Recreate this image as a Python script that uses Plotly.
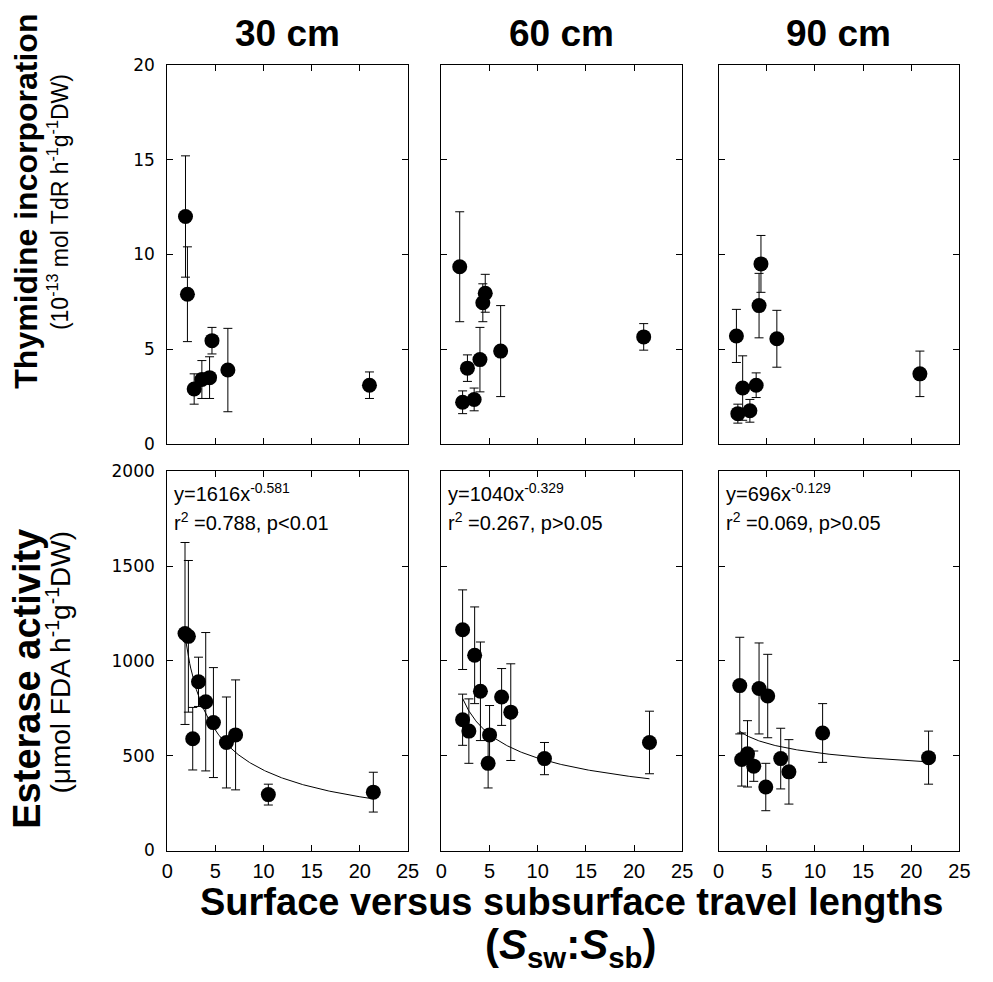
import numpy as np
import plotly.graph_objects as go

W, H = 993, 982

depths = ["30 cm", "60 cm", "90 cm"]

# Thymidine incorporation (10^-13 mol TdR h-1 g-1 DW)
thy30_x = [1.9, 2.1, 2.8, 3.6, 4.4, 4.65, 6.3, 21.0]
thy30_y = [12.0, 7.9, 2.9, 3.4, 3.5, 5.45, 3.9, 3.1]
thy30_e = [3.2, 2.5, 0.8, 1.0, 1.1, 0.7, 2.2, 0.7]

thy60_x = [1.9, 2.2, 2.7, 3.4, 4.0, 4.3, 4.55, 6.15, 21.0]
thy60_y = [9.35, 2.2, 4.0, 2.35, 4.45, 7.45, 7.95, 4.9, 5.65]
thy60_e = [2.9, 0.6, 0.7, 0.6, 1.7, 1.0, 1.0, 2.4, 0.7]

thy90_x = [1.85, 2.0, 2.5, 3.25, 3.9, 4.2, 4.4, 6.05, 20.9]
thy90_y = [5.7, 1.6, 2.95, 1.75, 3.1, 7.3, 9.5, 5.55, 3.7]
thy90_e = [1.4, 0.5, 1.7, 0.6, 0.65, 1.7, 1.5, 1.5, 1.2]

# Esterase activity (umol FDA h-1 g-1 DW)
est30_x = [1.85, 2.2, 2.65, 3.25, 4.0, 4.8, 6.15, 7.1, 10.5, 21.4]
est30_y = [1145, 1130, 590, 890, 785, 675, 570, 610, 295, 308]
est30_e = [480, 400, 165, 130, 365, 290, 240, 290, 55, 105]

est60_x = [2.2, 2.2, 2.85, 3.45, 4.05, 4.85, 5.0, 6.25, 7.2, 10.7, 21.6]
est60_y = [1165, 690, 630, 1030, 840, 460, 610, 810, 730, 485, 570]
est60_e = [210, 135, 170, 255, 260, 130, 155, 150, 255, 85, 165]

est90_x = [2.2, 2.4, 3.0, 3.65, 4.2, 4.9, 5.1, 6.45, 7.3, 10.8, 21.8]
est90_y = [870, 480, 510, 445, 855, 335, 815, 485, 415, 620, 490]
est90_e = [255, 140, 175, 80, 240, 125, 220, 160, 170, 155, 140]

# Power-law fits y = a * x^b
fit_coef = [1616, 1040, 696]
fit_exp = [-0.581, -0.329, -0.129]
fit_r2 = ["0.788", "0.267", "0.069"]
fit_p = ["p&lt;0.01", "p&gt;0.05", "p&gt;0.05"]

x_ticks = [0, 5, 10, 15, 20, 25]
thy_ticks = [0, 5, 10, 15, 20]
est_ticks = [0, 500, 1000, 1500, 2000]

thy_sets = [(thy30_x, thy30_y, thy30_e), (thy60_x, thy60_y, thy60_e), (thy90_x, thy90_y, thy90_e)]
est_sets = [(est30_x, est30_y, est30_e), (est60_x, est60_y, est60_e), (est90_x, est90_y, est90_e)]

# panel geometry in pixels
col_px = [(164, 409), (443, 688), (725, 970)]
top_px = (56, 443)
bot_px = (471, 858)


def xd(a, b):
    return [a / W, b / W]


def yd(t, b):
    return [1 - b / H, 1 - t / H]


def py(v):
    return 1 - v / H


fig = go.Figure()

marker = dict(size=15, color="black")
err_style = dict(type="data", color="black", thickness=1, width=4.5, visible=True)

for i in range(3):
    # top row uses axes 1-3, bottom row axes 4-6
    tx, ty, te = thy_sets[i]
    n_top = i + 1
    n_bot = i + 4
    fig.add_trace(go.Scatter(
        x=tx, y=ty, mode="markers", marker=marker,
        error_y=dict(array=te, **err_style),
        xaxis=f"x{n_top}", yaxis=f"y{n_top}", showlegend=False))

    ex, ey, ee = est_sets[i]
    fig.add_trace(go.Scatter(
        x=ex, y=ey, mode="markers", marker=marker,
        error_y=dict(array=ee, **err_style),
        xaxis=f"x{n_bot}", yaxis=f"y{n_bot}", showlegend=False))

    xs = np.linspace(min(ex), max(ex), 200)
    fig.add_trace(go.Scatter(
        x=xs, y=fit_coef[i] * xs ** fit_exp[i], mode="lines",
        line=dict(color="black", width=1),
        xaxis=f"x{n_bot}", yaxis=f"y{n_bot}", showlegend=False))

axis_common = dict(
    showline=True, linecolor="black", linewidth=1, mirror="allticks",
    ticks="inside", ticklen=6, tickcolor="black", tickwidth=1,
    showgrid=False, zeroline=False, fixedrange=True,
)

layout = dict(
    width=W, height=H, margin=dict(l=0, r=0, t=0, b=0),
    paper_bgcolor="white", plot_bgcolor="white",
    font=dict(family="Liberation Sans, Arial, sans-serif", color="black"),
)

for i in range(3):
    a, b = col_px[i]
    n_top = i + 1
    n_bot = i + 4
    suf_t = "" if n_top == 1 else str(n_top)
    suf_b = str(n_bot)
    layout[f"xaxis{suf_t}"] = dict(
        domain=xd(a, b), range=[0, 25], tickvals=x_ticks, showticklabels=False,
        anchor=f"y{n_top}", **axis_common)
    layout[f"yaxis{suf_t}"] = dict(
        domain=yd(*top_px), range=[0, 20], tickvals=thy_ticks,
        showticklabels=(i == 0), anchor=f"x{n_top}",
        tickfont=dict(family="DejaVu Sans", size=17), ticklabelstandoff=8,
        **axis_common)
    layout[f"xaxis{suf_b}"] = dict(
        domain=xd(a, b), range=[0, 25], tickvals=x_ticks, showticklabels=True,
        anchor=f"y{n_bot}",
        tickfont=dict(family="Liberation Sans Narrow, Liberation Sans", size=20),
        ticklabelstandoff=2, **axis_common)
    layout[f"yaxis{suf_b}"] = dict(
        domain=yd(*bot_px), range=[0, 2000], tickvals=est_ticks,
        showticklabels=(i == 0), anchor=f"x{n_bot}",
        tickfont=dict(family="DejaVu Sans", size=17), ticklabelstandoff=8,
        **axis_common)

fig.update_layout(**layout)

annotations = []

# depth headers
for i, d in enumerate(depths):
    a, b = col_px[i]
    annotations.append(dict(
        text=f"<b>{d}</b>", x=(a + b) / 2 / W, y=py(24), xref="paper", yref="paper",
        showarrow=False, font=dict(size=37), xanchor="center", yanchor="middle"))

# fit equations
for i in range(3):
    a, b = col_px[i]
    annotations.append(dict(
        text=f"y={fit_coef[i]}x<sup>{fit_exp[i]}</sup>",
        x=(a + 5) / W, y=py(493), xref="paper", yref="paper",
        showarrow=False, font=dict(size=20), xanchor="left", yanchor="middle"))
    annotations.append(dict(
        text=f"r<sup>2</sup> ={fit_r2[i]}, {fit_p[i]}",
        x=(a + 5) / W, y=py(522), xref="paper", yref="paper",
        showarrow=False, font=dict(size=20), xanchor="left", yanchor="middle"))

# y-axis titles
annotations.append(dict(
    text="<b>Thymidine incorporation</b>", x=20 / W, y=py(195),
    xref="paper", yref="paper", showarrow=False, textangle=-90,
    font=dict(size=32), xanchor="center", yanchor="middle"))
annotations.append(dict(
    text="(10<sup>-13</sup> mol TdR h<sup>-1</sup>g<sup>-1</sup>DW)", x=53 / W, y=py(196),
    xref="paper", yref="paper", showarrow=False, textangle=-90,
    font=dict(size=23, family="Liberation Sans Narrow, Liberation Sans"),
    xanchor="center", yanchor="middle"))
annotations.append(dict(
    text="<b>Esterase activity</b>", x=21 / W, y=py(683),
    xref="paper", yref="paper", showarrow=False, textangle=-90,
    font=dict(size=38), xanchor="center", yanchor="middle"))
annotations.append(dict(
    text="(μmol FDA h<sup>-1</sup>g<sup>-1</sup>DW)", x=54 / W, y=py(666),
    xref="paper", yref="paper", showarrow=False, textangle=-90,
    font=dict(size=28, family="Liberation Sans Narrow, Liberation Sans"),
    xanchor="center", yanchor="middle"))

# x-axis title
annotations.append(dict(
    text="<b>Surface versus subsurface travel lengths</b>", x=575 / W, y=py(911),
    xref="paper", yref="paper", showarrow=False,
    font=dict(size=38), xanchor="center", yanchor="middle"))
annotations.append(dict(
    text="<b>(<i>S</i><sub>sw</sub>:<i>S</i><sub>sb</sub>)</b>", x=575 / W, y=py(957),
    xref="paper", yref="paper", showarrow=False,
    font=dict(size=42), xanchor="center", yanchor="middle"))

fig.update_layout(annotations=annotations)

fig.write_html("out.html")
